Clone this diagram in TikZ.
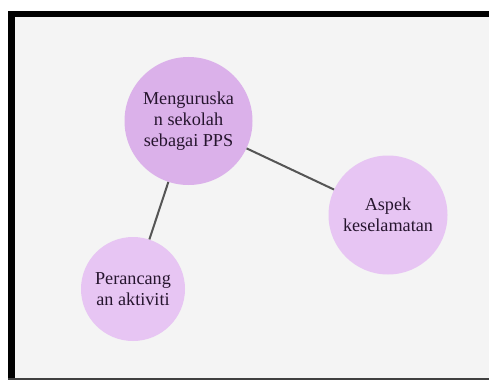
\documentclass[tikz,border=0pt]{standalone}
\usepackage{fontspec}
\setmainfont{Liberation Serif}
\definecolor{panel}{HTML}{F4F4F4}
\definecolor{mainfill}{HTML}{DBB1EA}
\definecolor{subfill}{HTML}{E7C5F3}
\definecolor{txt}{HTML}{26152E}
\definecolor{link}{HTML}{555555}
\begin{document}
\begin{tikzpicture}[x=1pt,y=1pt,
  bubble/.style={circle,inner sep=0pt,align=center,text=txt,
    font=\fontsize{18.2}{21}\selectfont},
  mainbubble/.style={bubble,fill=mainfill,minimum size=128pt},
  subbubble/.style={bubble,fill=subfill},
  connector/.style={draw=link,line width=2pt}]
\useasboundingbox (0,0) rectangle (489,381);
\fill[white] (0,0) rectangle (489,381);
\fill[panel] (15,2) rectangle (489,364);
\fill[black] (8,1) rectangle (15,370);
\fill[black] (8,364) rectangle (489,370);
\fill[black!75] (8,1) rectangle (489,3);
\node[mainbubble] (main) at (188.5,260) {Menguruska\\n sekolah\\sebagai PPS};
\node[subbubble,minimum size=119pt] (aspek) at (388,166) {Aspek\\keselamatan};
\node[subbubble,minimum size=104pt] (rancang) at (133,92) {Perancang\\an aktiviti};
\draw[connector] (main) -- (aspek);
\draw[connector] (main) -- (rancang);
\end{tikzpicture}
\end{document}
